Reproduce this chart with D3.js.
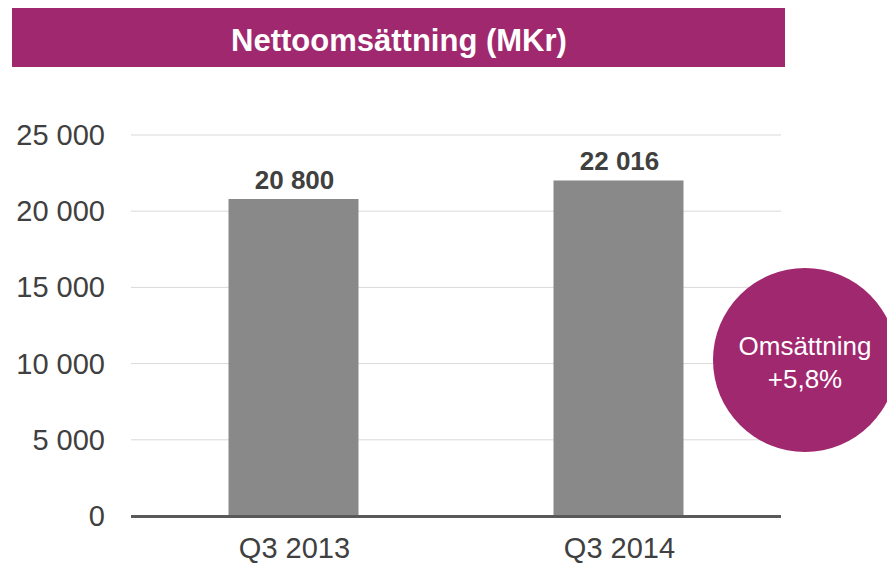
<!DOCTYPE html>
<html>
<head>
<meta charset="utf-8">
<script src="https://cdn.jsdelivr.net/npm/d3@7"></script>
<style>
  body { margin: 0; background: #fff; }
  svg { display: block; font-family: "Liberation Sans", Arial, sans-serif; }
</style>
</head>
<body>
<div id="chart"></div>
<script>
const categories = ['Q3 2013', 'Q3 2014'];
const values = [20800, 22016];
const yTicks = [0, 5000, 10000, 15000, 20000, 25000];
const title = 'Nettoomsättning (MKr)';
const badgeLines = ['Omsättning', '+5,8%'];

const width = 887, height = 563;
const margin = { left: 131, right: 106, top: 135, bottom: 47 };
const purple = '#a0286e';

const svg = d3.select('#chart').append('svg')
  .attr('width', width)
  .attr('height', height);

// title bar
svg.append('rect')
  .attr('x', 12).attr('y', 8)
  .attr('width', 773).attr('height', 59)
  .attr('fill', purple);
svg.append('text')
  .attr('x', 399).attr('y', 51)
  .attr('text-anchor', 'middle')
  .attr('fill', '#fff')
  .attr('font-size', 31)
  .attr('font-weight', 'bold')
  .text(title);

const x = d3.scaleBand()
  .domain(categories)
  .range([margin.left, width - margin.right])
  .paddingInner(0.6)
  .paddingOuter(0.3);

const y = d3.scaleLinear()
  .domain([0, 25000])
  .range([height - margin.bottom, margin.top]);

const fmt = d => d3.format(',')(d).replace(/,/g, ' ');

// gridlines
svg.append('g')
  .selectAll('line')
  .data(yTicks.filter(d => d > 0))
  .enter().append('line')
    .attr('x1', margin.left)
    .attr('x2', width - margin.right)
    .attr('y1', d => y(d))
    .attr('y2', d => y(d))
    .attr('stroke', '#d9d9d9')
    .attr('stroke-width', 1);

// y labels
svg.append('g')
  .selectAll('text')
  .data(yTicks)
  .enter().append('text')
    .attr('x', 105)
    .attr('y', d => y(d) + 10)
    .attr('text-anchor', 'end')
    .attr('fill', '#404040')
    .attr('font-size', 29)
    .text(d => fmt(d));

// bars
svg.append('g')
  .selectAll('rect')
  .data(values)
  .enter().append('rect')
    .attr('x', (d, i) => x(categories[i]))
    .attr('y', d => y(d))
    .attr('width', x.bandwidth())
    .attr('height', d => y(0) - y(d))
    .attr('fill', '#898989');

// bar value labels
svg.append('g')
  .selectAll('text')
  .data(values)
  .enter().append('text')
    .attr('x', (d, i) => x(categories[i]) + x.bandwidth() / 2 + 1)
    .attr('y', d => y(d) - 10)
    .attr('text-anchor', 'middle')
    .attr('fill', '#404040')
    .attr('font-size', 26)
    .attr('font-weight', 'bold')
    .text(d => fmt(d));

// x axis line
svg.append('line')
  .attr('x1', margin.left)
  .attr('x2', width - margin.right)
  .attr('y1', y(0) + 0.5)
  .attr('y2', y(0) + 0.5)
  .attr('stroke', '#595959')
  .attr('stroke-width', 3);

// x labels
svg.append('g')
  .selectAll('text')
  .data(categories)
  .enter().append('text')
    .attr('x', d => x(d) + x.bandwidth() / 2 + 1)
    .attr('y', 558)
    .attr('text-anchor', 'middle')
    .attr('fill', '#404040')
    .attr('font-size', 29)
    .text(d => d);

// badge
const badge = svg.append('g').attr('transform', 'translate(805,360)');
badge.append('circle')
  .attr('r', 92)
  .attr('fill', purple);
badge.selectAll('text')
  .data(badgeLines)
  .enter().append('text')
    .attr('x', 0)
    .attr('y', (d, i) => -5 + i * 33)
    .attr('text-anchor', 'middle')
    .attr('fill', '#fff')
    .attr('font-size', 26)
    .text(d => d);
</script>
</body>
</html>
